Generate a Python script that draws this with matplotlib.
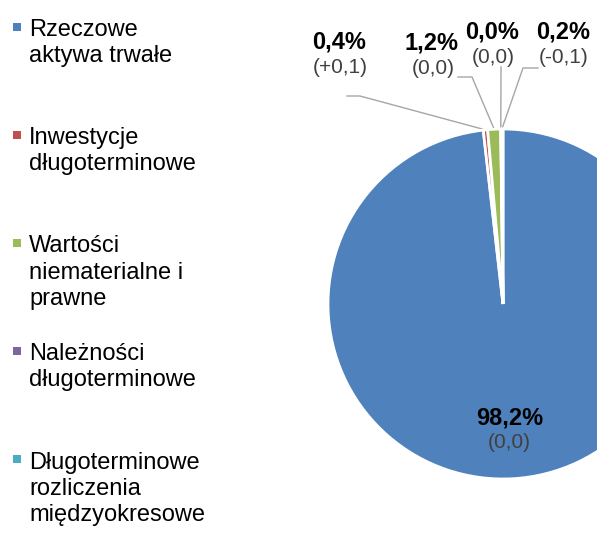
import matplotlib
matplotlib.use("Agg")
import matplotlib.pyplot as plt
from matplotlib.patches import Rectangle
import numpy as np

plt.rcParams['font.family'] = ['Liberation Sans', 'DejaVu Sans']

# data
categories = ["Rzeczowe\naktywa trwałe",
              "Inwestycje\ndługoterminowe",
              "Wartości\nniematerialne i\nprawne",
              "Należności\ndługoterminowe",
              "Długoterminowe\nrozliczenia\nmiędzyokresowe"]
shares = [98.2, 0.4, 1.2, 0.0, 0.2]
share_labels = ["98,2%", "0,4%", "1,2%", "0,0%", "0,2%"]
change_labels = ["(0,0)", "(+0,1)", "(0,0)", "(0,0)", "(-0,1)"]
colors = ["#4F81BD", "#C0504D", "#9BBB59", "#8064A2", "#4BACC6"]

W, H = 597, 536
fig = plt.figure(figsize=(W / 100, H / 100), dpi=100)

# pie centre and radius in pixels (from top-left)
cx, cy, R = 503, 304, 175
ax = fig.add_axes([(cx - R) / W, (H - cy - R) / H, 2 * R / W, 2 * R / H])

wedges, _ = ax.pie(shares, colors=colors, startangle=90, counterclock=False,
                   radius=1, wedgeprops=dict(edgecolor='white', linewidth=2))
for w in wedges:
    w.set_clip_on(False)
ax.set_xlim(-1, 1)
ax.set_ylim(-1, 1)
ax.axis('off')


def px(x, y):
    # pixel position -> data coordinates of the pie axes
    return (x - cx) / R, (cy - y) / R


def mid_angle(w):
    return np.deg2rad((w.theta1 + w.theta2) / 2)


# big slice label inside
a = mid_angle(wedges[0])
lx, ly = 0.65 * np.cos(a), 0.65 * np.sin(a)
ax.text(lx, ly, share_labels[0], ha='center', va='center', fontsize=17,
        fontweight='bold', color='black')
ax.text(lx, ly - 0.145, change_labels[0], ha='center', va='center',
        fontsize=15, color='#404040')

# small slices: label position (px), elbow (px)
label_pos = {1: (339, 42), 2: (432, 43), 3: (492, 32), 4: (563, 32)}
line_start = {1: [(347, 96), (360, 96)], 2: [(458, 77), (472, 77)],
              3: [(501, 67)], 4: [(538, 68), (523, 68)]}
for i in range(1, 5):
    x, y = label_pos[i]
    tx, ty = px(x, y)
    ax.text(tx, ty, share_labels[i], ha='center', va='center', fontsize=17,
            fontweight='bold', color='black', clip_on=False)
    tx2, ty2 = px(x + 1, y + 25)
    ax.text(tx2, ty2, change_labels[i], ha='center', va='center',
            fontsize=15, color='#404040', clip_on=False)
    a = mid_angle(wedges[i])
    pts = [px(*p) for p in line_start[i]] + [(np.cos(a), np.sin(a))]
    xs, ys = zip(*pts)
    ax.plot(xs, ys, color='#A6A6A6', lw=1, clip_on=False, zorder=0)

# legend
for i, (lab, col) in enumerate(zip(categories, colors)):
    base = 35 + 108 * i
    last = base + 27 * lab.count("\n")
    fig.add_artist(Rectangle((13 / W, (H - base + 4) / H), 8 / W, 8 / H,
                             transform=fig.transFigure, color=col, lw=0))
    fig.text(29 / W, (H - last) / H, lab, fontsize=17, color='black',
             va='baseline', ha='left', linespacing=1.25)

fig.savefig("out.png", dpi=100)
